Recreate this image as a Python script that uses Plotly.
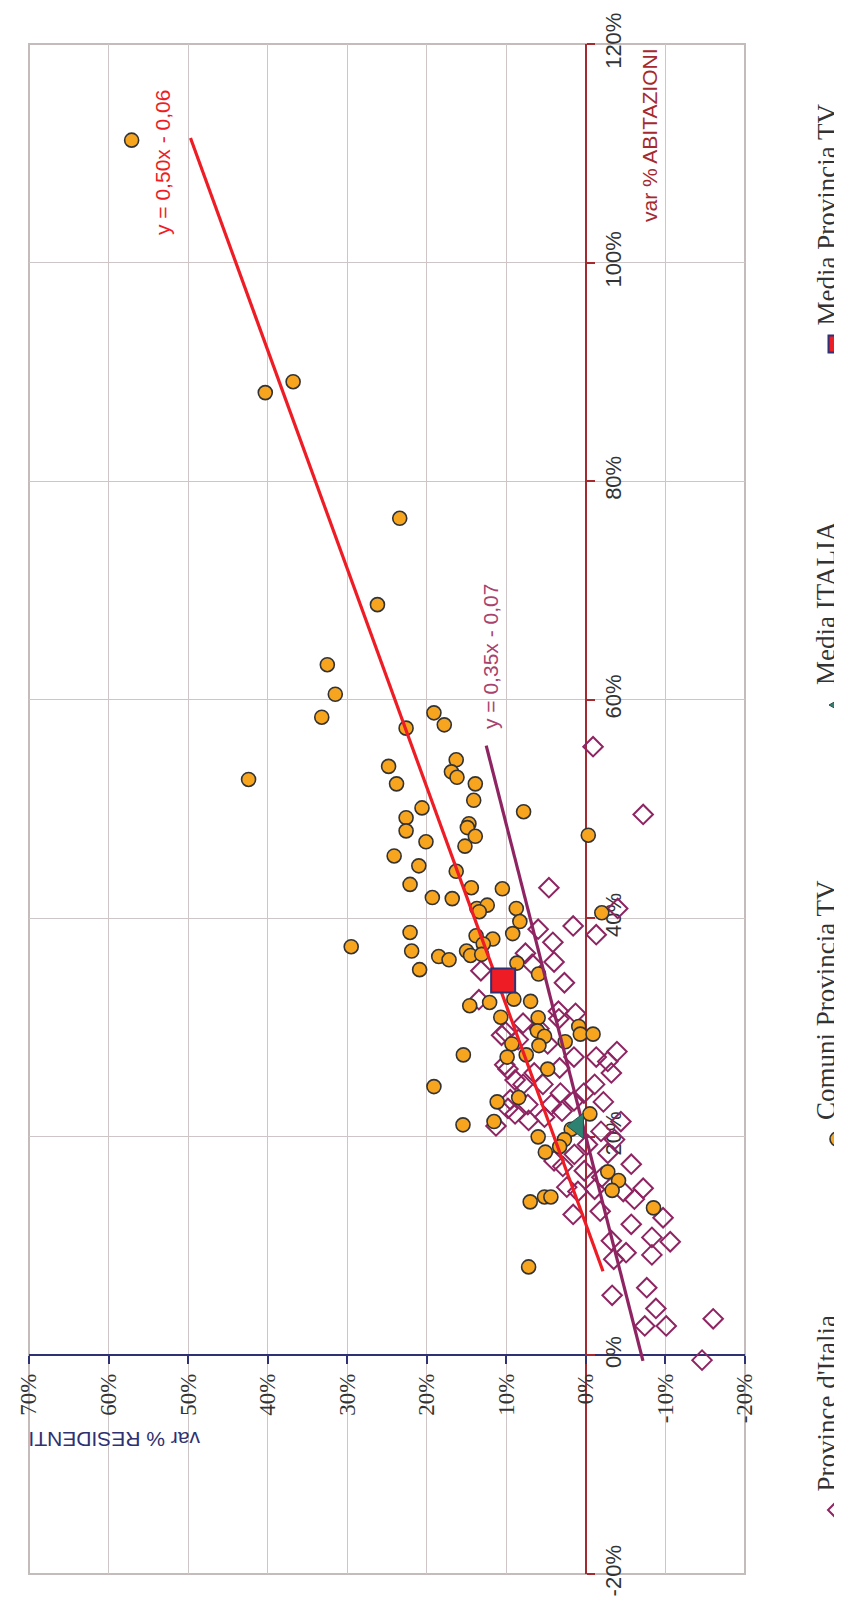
import plotly.graph_objects as go

# var % abitazioni (vertical axis after rotation), var % residenti (horizontal axis)
prov_abit = [55.7, 49.5, 42.8, 39.3, 39.0, 37.8, 38.5, 40.9, 36.8, 35.8,
             35.2, 31.5, 32.55, 30.4, 29.3, 28.5, 27.3, 27.3, 27.8, 26.9,
             25.85, 26.3, 26.2, 25.85, 24.8, 24.8, 24.0, 24.8, 23.2, 24.0,
             23.3, 22.95, 22.95, 23.4, 22.1, 21.8, 22.35, 21.4, 20.5, 19.75,
             19.3, 18.4, 17.3, 18.5, 17.5, 16.9, 16.3, 15.2, 15.0, 15.0,
             15.3, 14.3, 12.9, 13.2, 12.6, 12.0, 10.8, 10.4, 10.5, 9.4,
             8.8, 9.2, 5.5, 6.2, 4.3, 2.7, 2.7, 3.35, -0.43,
             29.6, 26.6, 25.2, 22.6, 21.5, 28.9, 29.9, 30.8, 31.3, 34.1,
             36.0, 21.0, 15.4, 17.8]
prov_resid = [-0.9, -7.2, 4.65, 1.6, 6.0, 4.15, -1.3, -4.0, 7.6, 6.75,
              13.2, 3.45, 13.45, 7.9, 10.6, 4.8, 1.5, -1.3, -3.9, -2.75,
              -3.2, 3.3, 9.8, 6.5, 7.9, 5.4, 3.2, -1.1, -2.2, 0.25,
              1.5, 4.35, 7.3, 9.5, 8.9, 5.2, 3.0, -4.4, -1.9, -3.6,
              -0.2, 1.45, 2.9, -2.75, -5.7, 0.2, -2.0, -1.1, 1.0, -4.7,
              -7.2, -6.1, 1.6, -1.8, -9.7, -5.7, -8.3, -10.6, -3.2, -5.05,
              -3.5, -8.3, -3.3, -7.65, -8.8, -7.4, -10.1, -16.0, -14.6,
              10.1, 10.2, 8.9, 9.8, 7.2, 8.5, 5.9, 3.4, 1.3, 2.7,
              4.0, 11.3, 2.4, 4.0]

tv_abit = [111.2, 88.1, 89.1, 76.6, 68.7, 63.2, 60.5, 58.4, 52.7, 53.9,
           52.3, 45.7, 37.4,
           57.4, 58.8, 57.7, 54.5, 53.4, 52.9, 52.3, 50.8, 50.1, 49.2,
           48.0, 48.65, 48.3, 47.5, 47.0, 46.6, 44.8, 44.3, 43.1, 41.9,
           41.8, 42.8, 42.7, 40.9, 41.2, 40.6, 40.9, 39.7, 38.6, 38.7,
           37.0, 38.4, 38.1, 37.65, 37.0, 36.6, 36.7, 36.5, 36.2, 35.3,
           35.9, 34.9, 32.4, 32.6, 32.3, 32.0, 49.75, 47.6, 40.5,
           30.95, 30.9, 29.7, 29.2, 28.35, 28.5, 27.3, 27.5, 26.2, 27.5,
           24.6, 23.2, 23.6, 21.1, 21.4, 30.1, 29.4, 29.4, 28.7, 22.1,
           20.7, 19.75, 19.1, 20.0, 18.6, 16.8, 16.0, 15.1, 13.5, 14.05,
           14.5, 14.5, 8.1]
tv_resid = [57.1, 40.3, 36.8, 23.4, 26.2, 32.5, 31.5, 33.2, 42.4, 24.8,
            23.8, 24.1, 29.5,
            22.6, 19.1, 17.8, 16.3, 16.9, 16.2, 13.9, 14.1, 20.6, 22.6,
            22.6, 14.7, 14.9, 13.9, 20.1, 15.2, 21.0, 16.3, 22.1, 19.3,
            16.8, 14.4, 10.5, 13.7, 12.4, 13.4, 8.75, 8.3, 9.2, 22.1,
            21.9, 13.8, 11.7, 12.9, 15.0, 14.5, 13.1, 18.5, 17.2, 20.9,
            8.67, 5.95, 6.95, 9.05, 12.1, 14.6, 7.83, -0.3, -2.0,
            10.7, 6.0, 6.1, 5.2, 5.9, 9.3, 9.9, 7.5, 4.8, 15.4,
            19.1, 11.15, 8.45, 15.45, 11.55, 0.9, 0.7, -0.9, 2.6, -0.5,
            1.85, 2.7, 3.3, 6.0, 5.1, -2.75, -4.1, -3.3, -8.5, 7.0,
            5.2, 4.4, 7.2]

italia_abit = [21.0]
italia_resid = [1.0]
media_tv_abit = [34.3]
media_tv_resid = [10.4]

# trendlines as printed on the chart: slope, intercept (in %), x span
trend_tv = (0.50, -6.0)
trend_tv_span = [7.7, 111.4]
trend_prov = (0.35, -7.0)
trend_prov_span = [-0.5, 55.8]

resid_ticks = [70, 60, 50, 40, 30, 20, 10, 0, -10, -20]
resid_labels = ["70%", "60%", "50%", "40%", "30%", "20%", "10%", "0%", "-10%", "-20%"]
abit_ticks = [-20, 0, 20, 40, 60, 80, 100, 120]
abit_labels = ["-20%", "0%", "20%", "40%", "60%", "80%", "100%", "120%"]

legend_names = ["Province d'Italia", "Comuni Provincia TV", "Media ITALIA", "Media Provincia TV"]

W, H = 842, 1601
L, R, T, B = 21, 105, 36, 35
PW, PH = W - L - R, H - T - B


def px_x(px):
    return (px - L) / PW


def px_y(py):
    return (H - B - py) / PH


RED = "#EE1C25"
PURPLE = "#8E2462"
NAVY = "#2E3172"
AXRED = "#A52A30"
GRID = "#CEC6C6"

fig = go.Figure()

fig.add_trace(go.Scatter(x=prov_resid, y=prov_abit, mode="markers", name=legend_names[0],
                         marker=dict(symbol="diamond-open", size=15, color=PURPLE,
                                     line=dict(width=2, color=PURPLE))))
fig.add_trace(go.Scatter(x=tv_resid, y=tv_abit, mode="markers", name=legend_names[1],
                         marker=dict(symbol="circle", size=14, color="#F7A51E",
                                     line=dict(width=1.6, color="#333333"))))

for (m, q), span, col in [(trend_tv, trend_tv_span, RED), (trend_prov, trend_prov_span, PURPLE)]:
    fig.add_trace(go.Scatter(x=[m * v + q for v in span], y=span, mode="lines",
                             line=dict(color=col, width=3.2), hoverinfo="skip"))

fig.add_trace(go.Scatter(x=italia_resid, y=italia_abit, mode="markers", name=legend_names[2],
                         marker=dict(symbol="triangle-left", size=22, color="#2D8272",
                                     line=dict(width=1, color="#24514A"))))
fig.add_trace(go.Scatter(x=media_tv_resid, y=media_tv_abit, mode="markers", name=legend_names[3],
                         marker=dict(symbol="square", size=24, color=RED,
                                     line=dict(width=2, color=NAVY))))

fig.update_layout(
    width=W, height=H, showlegend=False,
    paper_bgcolor="white", plot_bgcolor="white",
    margin=dict(l=L, r=R, t=T, b=B, autoexpand=False),
    xaxis=dict(range=[70, -20], tickvals=resid_ticks, ticktext=resid_labels,
               showgrid=True, gridcolor=GRID, gridwidth=1, zeroline=False,
               showline=True, linecolor=NAVY, linewidth=2,
               anchor="free", position=(H - B - 1347.3) / PH,
               ticks="outside", ticklen=8, tickwidth=2, tickcolor=NAVY,
               tickangle=-90, tickfont=dict(family="Liberation Serif", size=23, color="#333333"),
               layer="below traces"),
    yaxis=dict(range=[-20, 120], tickvals=abit_ticks, ticktext=abit_labels,
               showgrid=True, gridcolor=GRID, gridwidth=1, zeroline=False,
               showline=True, linecolor=AXRED, linewidth=2,
               anchor="free", position=px_x(577.5), side="right",
               ticks="outside", ticklen=8, tickwidth=2, tickcolor=AXRED,
               tickangle=-90, tickfont=dict(family="Liberation Sans", size=22, color="#333333"),
               layer="below traces"),
)

# plot border
fig.add_shape(type="rect", xref="paper", yref="paper", x0=0, x1=1, y0=0, y1=1,
              line=dict(color="#C4BBBB", width=2), layer="below")

ann = []
ann.append(dict(text="y = 0,50x - 0,06", x=px_x(155), y=px_y(155), textangle=-90,
                font=dict(family="Liberation Sans", size=21, color=RED)))
ann.append(dict(text="y = 0,35x - 0,07", x=px_x(482), y=px_y(648), textangle=-90,
                font=dict(family="Liberation Sans", size=21, color="#A8436E")))
ann.append(dict(text="var % ABITAZIONI", x=px_x(641), y=px_y(128), textangle=-90,
                font=dict(family="Liberation Sans", size=21, color=AXRED)))
ann.append(dict(text="var % RESIDENTI", x=px_x(106.5), y=px_y(1432), textangle=180,
                font=dict(family="Liberation Sans", size=21, color=NAVY)))

# legend, drawn rotated like the rest of the chart
leg_x = 818
leg_sym_x = 829
leg_text_y = [1394.5, 992, 595, 206.5]
leg_sym_y = [1502, 1131, 697, 336]
for name, ty in zip(legend_names, leg_text_y):
    ann.append(dict(text=name, x=px_x(leg_x), y=px_y(ty), textangle=-90,
                    font=dict(family="Liberation Serif", size=27, color="#333333")))
for a in ann:
    a.update(xref="paper", yref="paper", showarrow=False, xanchor="center", yanchor="middle")
fig.update_layout(annotations=ann)

sym = dict(xref="paper", yref="paper", xsizemode="pixel", ysizemode="pixel", xanchor=px_x(leg_sym_x))
fig.add_shape(type="path", path="M 0,-9 L 9,0 L 0,9 L -9,0 Z", yanchor=px_y(leg_sym_y[0]),
              line=dict(color=PURPLE, width=2), fillcolor="white", **sym)
fig.add_shape(type="circle", x0=-7, x1=7, y0=-7, y1=7, yanchor=px_y(leg_sym_y[1]),
              line=dict(color="#333333", width=1.6), fillcolor="#F7A51E", **sym)
fig.add_shape(type="path", path="M -8,0 L 8,9 L 8,-9 Z", yanchor=px_y(leg_sym_y[2]),
              line=dict(color="#24514A", width=1), fillcolor="#2D8272", **sym)
fig.add_shape(type="rect", x0=-8.5, x1=8.5, y0=-8.5, y1=8.5, yanchor=px_y(leg_sym_y[3]),
              line=dict(color=NAVY, width=2), fillcolor=RED, **sym)

fig.write_html("out.html")
